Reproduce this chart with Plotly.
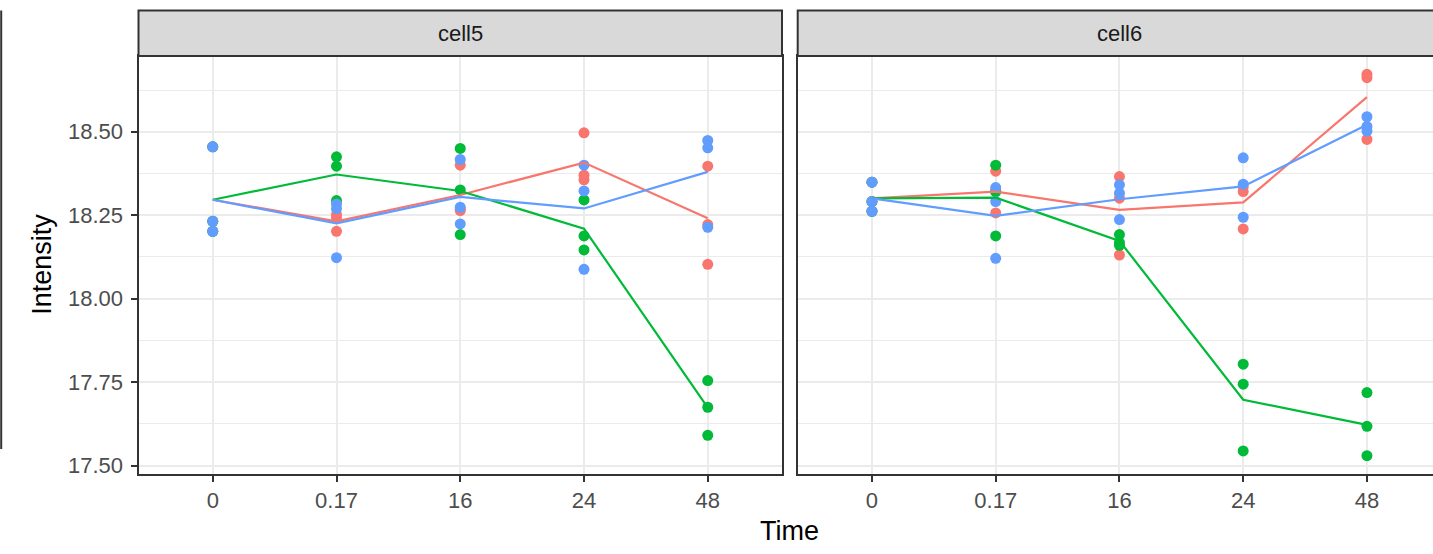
import numpy as np
import plotly.graph_objects as go

# ---------------- data ----------------
times = ["0", "0.17", "16", "24", "48"]
panels = ["cell5", "cell6"]
groups = ["1", "2", "3"]
colors = ["#F8766D", "#00BA38", "#619CFF"]

cell5_t0 = [18.455, 18.232, 18.202]
cell5_g1 = [cell5_t0, [18.252, 18.242, 18.202], [18.400, 18.268, 18.264], [18.497, 18.370, 18.356], [18.397, 18.222, 18.103]]
cell5_g2 = [cell5_t0, [18.425, 18.397, 18.294], [18.450, 18.326, 18.192], [18.296, 18.188, 18.146], [17.755, 17.675, 17.591]]
cell5_g3 = [cell5_t0, [18.284, 18.270, 18.123], [18.417, 18.274, 18.224], [18.400, 18.323, 18.088], [18.474, 18.452, 18.214]]

cell6_t0 = [18.349, 18.291, 18.262]
cell6_g1 = [cell6_t0, [18.382, 18.324, 18.257], [18.366, 18.301, 18.131], [18.335, 18.321, 18.209], [18.672, 18.662, 18.477]]
cell6_g2 = [cell6_t0, [18.400, 18.320, 18.188], [18.192, 18.168, 18.160], [17.804, 17.744, 17.544], [17.719, 17.618, 17.530]]
cell6_g3 = [cell6_t0, [18.333, 18.291, 18.121], [18.341, 18.316, 18.237], [18.422, 18.343, 18.244], [18.545, 18.516, 18.502]]

data = {"cell5": [cell5_g1, cell5_g2, cell5_g3], "cell6": [cell6_g1, cell6_g2, cell6_g3]}

y_ticks = [17.50, 17.75, 18.00, 18.25, 18.50]

# ---------------- layout geometry ----------------
W, H = 1433, 554
FONT = "Liberation Sans, Arial, Helvetica, sans-serif"
DARK = "#333333"
GRID = "#EBEBEB"

p1_x0, p1_x1 = 138.5, 782.0
p2_x0 = 797.7
panel_w = p1_x1 - p1_x0
p_top, p_bot = 56.5, 478.0
strip_top = 10.5

def px(x):
    return x / W

def py(y):
    return (H - y) / H

x_lo, x_hi = -0.6, 4.6
x2_hi = x_lo + (W - p2_x0) / panel_w * (x_hi - x_lo)
y_range = [17.476, 18.727]

fig = go.Figure()

axes = [("x", "y"), ("x2", "y2")]
for (xa, ya), cell in zip(axes, panels):
    for gi, (g, c) in enumerate(zip(groups, colors)):
        vals = data[cell][gi]
        xs = [t for t, v in zip(times, vals) for _ in v]
        ys = [y for v in vals for y in v]
        fig.add_trace(go.Scatter(x=xs, y=ys, mode="markers", xaxis=xa, yaxis=ya,
                                 marker=dict(color=c, size=11, line=dict(width=0)),
                                 name=g, showlegend=False, hoverinfo="x+y"))
    for gi, (g, c) in enumerate(zip(groups, colors)):
        vals = data[cell][gi]
        means = [float(np.mean(v)) for v in vals]
        fig.add_trace(go.Scatter(x=times, y=means, mode="lines", xaxis=xa, yaxis=ya,
                                 line=dict(color=c, width=2.2),
                                 name=g, showlegend=False))

xcommon = dict(type="category", categoryorder="array", categoryarray=times,
               showgrid=True, gridcolor=GRID, gridwidth=2,
               showline=True, linecolor=DARK, linewidth=2, mirror=True,
               ticks="outside", ticklen=6, tickwidth=2, tickcolor=DARK,
               tickfont=dict(family=FONT, size=22, color="#4D4D4D"),
               zeroline=False, fixedrange=True)
ycommon = dict(range=y_range, tickvals=y_ticks, tickformat=".2f",
               showgrid=True, gridcolor=GRID, gridwidth=2,
               minor=dict(dtick=0.125, tick0=17.375, showgrid=True, gridcolor=GRID, gridwidth=1, ticks=""),
               showline=True, linecolor=DARK, linewidth=2,
               zeroline=False, fixedrange=True,
               tickfont=dict(family=FONT, size=22, color="#4D4D4D"))

fig.update_layout(
    width=W, height=H,
    margin=dict(l=0, r=0, t=0, b=0),
    paper_bgcolor="white", plot_bgcolor="white",
    font=dict(family=FONT),
    xaxis=dict(xcommon, domain=[px(p1_x0), px(p1_x1)], range=[x_lo, x_hi], anchor="y"),
    xaxis2=dict(xcommon, domain=[px(p2_x0), 1.0], range=[x_lo, x2_hi], anchor="y2"),
    yaxis=dict(ycommon, domain=[py(p_bot), py(p_top)], anchor="x", mirror=True,
               ticks="outside", ticklen=6, tickwidth=2, tickcolor=DARK, ticklabelstandoff=3),
    yaxis2=dict(ycommon, domain=[py(p_bot), py(p_top)], anchor="x2", mirror=False,
                showticklabels=False, ticks=""),
    showlegend=False,
)

shapes = []
# strips
shapes.append(dict(type="rect", xref="paper", yref="paper", x0=px(p1_x0), x1=px(p1_x1),
                   y0=py(p_top), y1=py(strip_top), fillcolor="#D9D9D9",
                   line=dict(color=DARK, width=2), layer="above"))
shapes.append(dict(type="rect", xref="paper", yref="paper", x0=px(p2_x0), x1=px(p2_x0 + panel_w),
                   y0=py(p_top), y1=py(strip_top), fillcolor="#D9D9D9",
                   line=dict(color=DARK, width=2), layer="above"))
# stray left line (cropped element)
shapes.append(dict(type="line", xref="paper", yref="paper", x0=px(1.2), x1=px(1.2),
                   y0=py(453), y1=py(10.5), line=dict(color=DARK, width=2)))
fig.update_layout(shapes=shapes)

annotations = [
    dict(text="cell5", xref="paper", yref="paper", x=px((p1_x0 + p1_x1) / 2), y=py((strip_top + p_top) / 2),
         showarrow=False, xanchor="center", yanchor="middle", font=dict(family=FONT, size=22, color="#1A1A1A")),
    dict(text="cell6", xref="paper", yref="paper", x=px(p2_x0 + panel_w / 2), y=py((strip_top + p_top) / 2),
         showarrow=False, xanchor="center", yanchor="middle", font=dict(family=FONT, size=22, color="#1A1A1A")),
    dict(text="Time", xref="paper", yref="paper", x=px((p1_x0 + p2_x0 + panel_w) / 2), y=py(536),
         showarrow=False, xanchor="center", yanchor="middle", font=dict(family=FONT, size=27, color="black")),
    dict(text="Intensity", xref="paper", yref="paper", x=px(42), y=py((p_top + p_bot) / 2), textangle=-90,
         showarrow=False, xanchor="center", yanchor="middle", font=dict(family=FONT, size=27, color="black")),
]
fig.update_layout(annotations=annotations)

fig.write_html("out.html", config={"displayModeBar": False},
               post_script="document.body.style.margin='0';document.body.style.overflow='hidden';")
